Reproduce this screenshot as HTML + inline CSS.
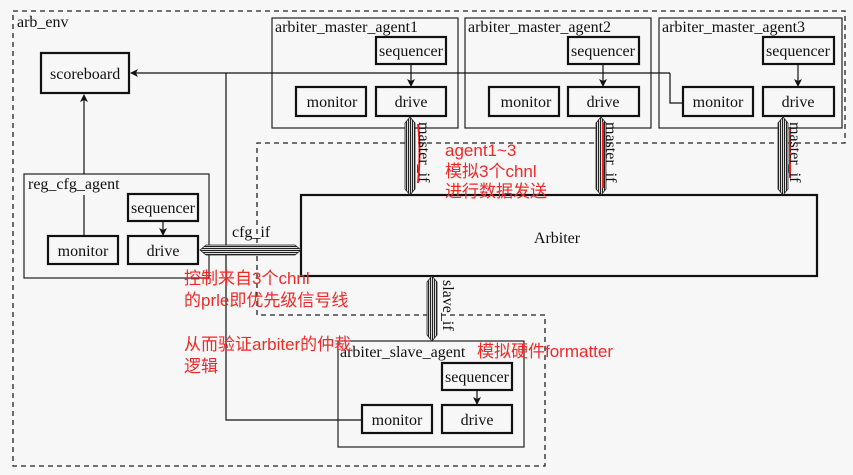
<!DOCTYPE html>
<html><head><meta charset="utf-8"><style>
body{margin:0;background:#f7f7f7}
svg{display:block}
.s{font-family:"Liberation Serif",serif;font-size:16px;fill:#111}
.r{font-family:"Liberation Sans","Noto Sans CJK SC",sans-serif;font-size:17px;fill:#f02828}
</style></head><body>
<svg width="853" height="475" viewBox="0 0 853 475" xmlns="http://www.w3.org/2000/svg">
<defs>
<marker id="a" markerWidth="8" markerHeight="8" refX="7" refY="4" orient="auto" markerUnits="userSpaceOnUse"><path d="M0,0 L8,4 L0,8 L2,4 z" fill="#111"/></marker>
<pattern id="h" width="2" height="2" patternUnits="userSpaceOnUse"><rect width="1" height="2" fill="#222"/><rect x="1" width="1" height="2" fill="#ddd"/></pattern>
<pattern id="hh" width="2" height="2" patternUnits="userSpaceOnUse"><rect width="2" height="1" fill="#222"/><rect y="1" width="2" height="1" fill="#ddd"/></pattern>
</defs>
<rect width="853" height="475" fill="#f7f7f7"/>
<g fill="none" stroke="#222" stroke-width="1.3" stroke-dasharray="5,4">
<path d="M13,11 H845 V143 H257 V315 H545 V466 H13 Z"/>
</g>
<g fill="none" stroke="#222" stroke-width="1.2">
<rect x="272" y="18" width="186" height="110"/>
<rect x="465" y="18" width="186" height="110"/>
<rect x="659" y="18" width="183" height="110"/>
<rect x="24" y="174" width="185" height="104"/>
<rect x="338" y="341" width="186" height="106"/>
</g>
<g fill="#f7f7f7" stroke="#111" stroke-width="2.2">
<rect x="41" y="53" width="88" height="40"/>
<rect x="376" y="37" width="70" height="27"/><rect x="376" y="87" width="70" height="29"/><rect x="296" y="87" width="70" height="29"/>
<rect x="568" y="37" width="71" height="27"/><rect x="568" y="87" width="71" height="29"/><rect x="489" y="87" width="70" height="29"/>
<rect x="763" y="37" width="71" height="27"/><rect x="763" y="87" width="71" height="29"/><rect x="683" y="87" width="70" height="29"/>
<rect x="128" y="194" width="70" height="27"/><rect x="128" y="236" width="70" height="28"/><rect x="48" y="236" width="70" height="28"/>
<rect x="301" y="195" width="516" height="81"/>
<rect x="442" y="363" width="70" height="27"/><rect x="442" y="405" width="70" height="28"/><rect x="362" y="405" width="70" height="28"/>
</g>
<g fill="none" stroke="#111" stroke-width="1.2">
<path d="M670,73 H131" marker-end="url(#a)"/>
<path d="M670,73 V103 H683"/>
<path d="M226,73 V420 H362"/>
<path d="M84,174 V95" marker-end="url(#a)"/>
<path d="M84,236 V195"/>
<path d="M411,64 V86" marker-end="url(#a)"/>
<path d="M603,64 V86" marker-end="url(#a)"/>
<path d="M798,64 V86" marker-end="url(#a)"/>
<path d="M163,221 V235" marker-end="url(#a)"/>
<path d="M477,390 V404" marker-end="url(#a)"/>
</g>
<g stroke="#222" stroke-width="0.8">
<path d="M405,123 L410,117 L415,123 V189 L410,195 L405,189 Z" fill="url(#h)"/>
<path d="M596,123 L601,117 L606,123 V189 L601,195 L596,189 Z" fill="url(#h)"/>
<path d="M778,123 L783,117 L788,123 V189 L783,195 L778,189 Z" fill="url(#h)"/>
<path d="M427,282 L432,276 L437,282 V335 L432,341 L427,335 Z" fill="url(#h)"/>
<path d="M206,245 L200,250 L206,255 H295 L301,250 L295,245 Z" fill="url(#hh)"/>
</g>
<g stroke="#e82020" stroke-width="2" fill="none">
<path d="M418,124 Q421,150 418,183"/>
<path d="M603,122 V188"/>
<path d="M790,127 V178"/>
</g>
<text class="s" x="17" y="27">arb_env</text>
<text class="s" x="275" y="32">arbiter_master_agent1</text>
<text class="s" x="468" y="32">arbiter_master_agent2</text>
<text class="s" x="662" y="32">arbiter_master_agent3</text>
<text class="s" x="50" y="79">scoreboard</text>
<text class="s" x="28" y="189">reg_cfg_agent</text>
<text class="s" x="340" y="357">arbiter_slave_agent</text>
<g class="s" text-anchor="middle">
<text x="411" y="56">sequencer</text><text x="411" y="107">drive</text><text x="332" y="107">monitor</text>
<text x="603" y="56">sequencer</text><text x="603" y="107">drive</text><text x="526" y="107">monitor</text>
<text x="798" y="56">sequencer</text><text x="798" y="107">drive</text><text x="718" y="107">monitor</text>
<text x="163" y="213">sequencer</text><text x="163" y="256">drive</text><text x="83" y="256">monitor</text>
<text x="477" y="382">sequencer</text><text x="477" y="425">drive</text><text x="397" y="425">monitor</text>
<text x="557" y="243">Arbiter</text>
</g>
<text class="s" x="232" y="237">cfg_if</text>
<text class="s" transform="translate(419,122) rotate(90)">master_if</text>
<text class="s" transform="translate(606,122) rotate(90)">master_if</text>
<text class="s" transform="translate(790,122) rotate(90)">master_if</text>
<text class="s" transform="translate(443,280) rotate(90)">slave_if</text>
<text class="r" x="445" y="156">agent1~3</text>
<text class="r" x="445" y="177">模拟3个chnl</text>
<text class="r" x="445" y="197">进行数据发送</text>
<text class="r" x="184" y="284">控制来自3个chnl</text>
<text class="r" x="184" y="306">的prle即优先级信号线</text>
<text class="r" x="184" y="350">从而验证arbiter的仲裁</text>
<text class="r" x="184" y="372">逻辑</text>
<text class="r" x="477" y="357">模拟硬件formatter</text>
</svg>
</body></html>
